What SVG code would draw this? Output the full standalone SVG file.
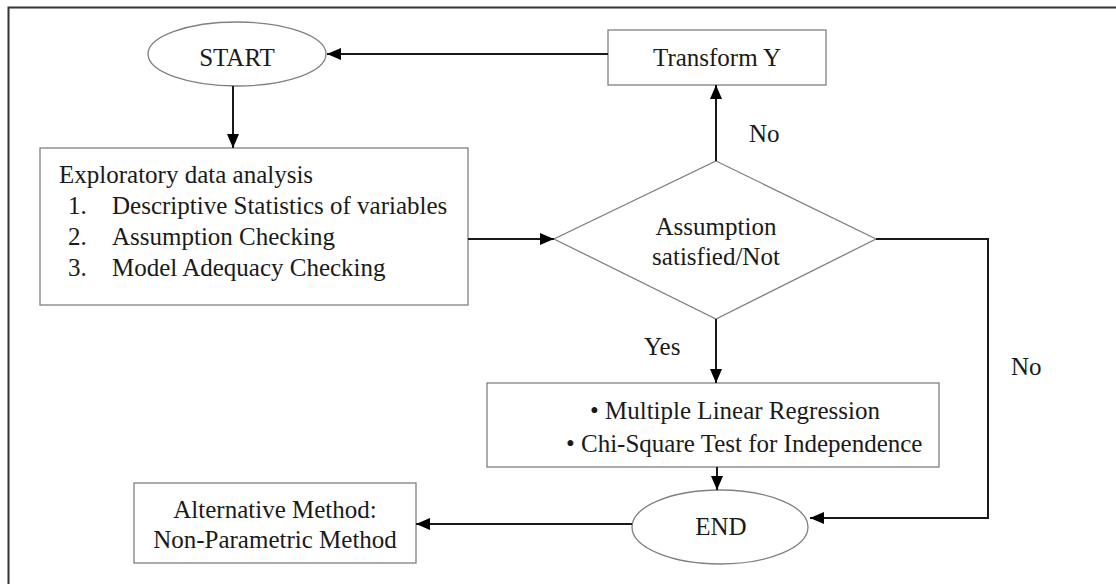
<svg xmlns="http://www.w3.org/2000/svg" width="1116" height="584" viewBox="0 0 1116 584">
<style>
.shape{fill:#fff;stroke:#808080;stroke-width:1.3}
.conn{fill:none;stroke:#1a1a1a;stroke-width:2}
text{font-family:"Liberation Serif","Times New Roman",serif;font-size:25px;fill:#1a1a1a}
.c{text-anchor:middle}
</style>
<defs>
<marker id="arr" viewBox="0 0 14 12" refX="14" refY="6" markerWidth="14" markerHeight="12" markerUnits="userSpaceOnUse" orient="auto">
<path d="M0,0 L14,6 L0,12 Z" fill="#000"/>
</marker>
</defs>
<rect width="1116" height="584" fill="#fff"/>
<path d="M8.5,584 V7.5 H1116" fill="none" stroke="#333" stroke-width="2"/>
<g id="start">
<ellipse class="shape" cx="237" cy="54" rx="89" ry="32"/>
<text class="c" x="237" y="66">START</text>
</g>
<g id="transform">
<rect class="shape" x="608" y="30" width="218" height="55"/>
<text class="c" x="717" y="66">Transform Y</text>
</g>
<g id="eda">
<rect class="shape" x="40" y="148" width="428" height="157"/>
<text x="59" y="183">Exploratory data analysis</text>
<text x="68" y="214">1.</text><text x="112" y="214">Descriptive Statistics of variables</text>
<text x="68" y="245">2.</text><text x="112" y="245">Assumption Checking</text>
<text x="68" y="276">3.</text><text x="112" y="276">Model Adequacy Checking</text>
</g>
<g id="decision">
<polygon class="shape" points="716,161 876,239 716,319 554,239"/>
<text class="c" x="716" y="235">Assumption</text>
<text class="c" x="716" y="265">satisfied/Not</text>
</g>
<g id="methods">
<rect class="shape" x="487" y="383" width="452" height="84"/>
<text x="590" y="419">• Multiple Linear Regression</text>
<text x="566" y="452">• Chi-Square Test for Independence</text>
</g>
<g id="end">
<ellipse class="shape" cx="720" cy="527" rx="88" ry="37"/>
<text class="c" x="721" y="535">END</text>
</g>
<g id="alternative">
<rect class="shape" x="134" y="483" width="282" height="80"/>
<text class="c" x="275" y="518">Alternative Method:</text>
<text class="c" x="275" y="548">Non-Parametric Method</text>
</g>
<g id="connectors">
<path class="conn" d="M608,54 H327" marker-end="url(#arr)"/>
<path class="conn" d="M233,86 V148" marker-end="url(#arr)"/>
<path class="conn" d="M468,239 H554" marker-end="url(#arr)"/>
<path class="conn" d="M716,161 V85" marker-end="url(#arr)"/>
<path class="conn" d="M716,319 V383" marker-end="url(#arr)"/>
<path class="conn" d="M876,239 H988 V518 H810" marker-end="url(#arr)"/>
<path class="conn" d="M717,467 V490" marker-end="url(#arr)"/>
<path class="conn" d="M632,524 H416" marker-end="url(#arr)"/>
<text x="749" y="142">No</text>
<text x="644" y="355">Yes</text>
<text x="1011" y="375">No</text>
</g>
</svg>
